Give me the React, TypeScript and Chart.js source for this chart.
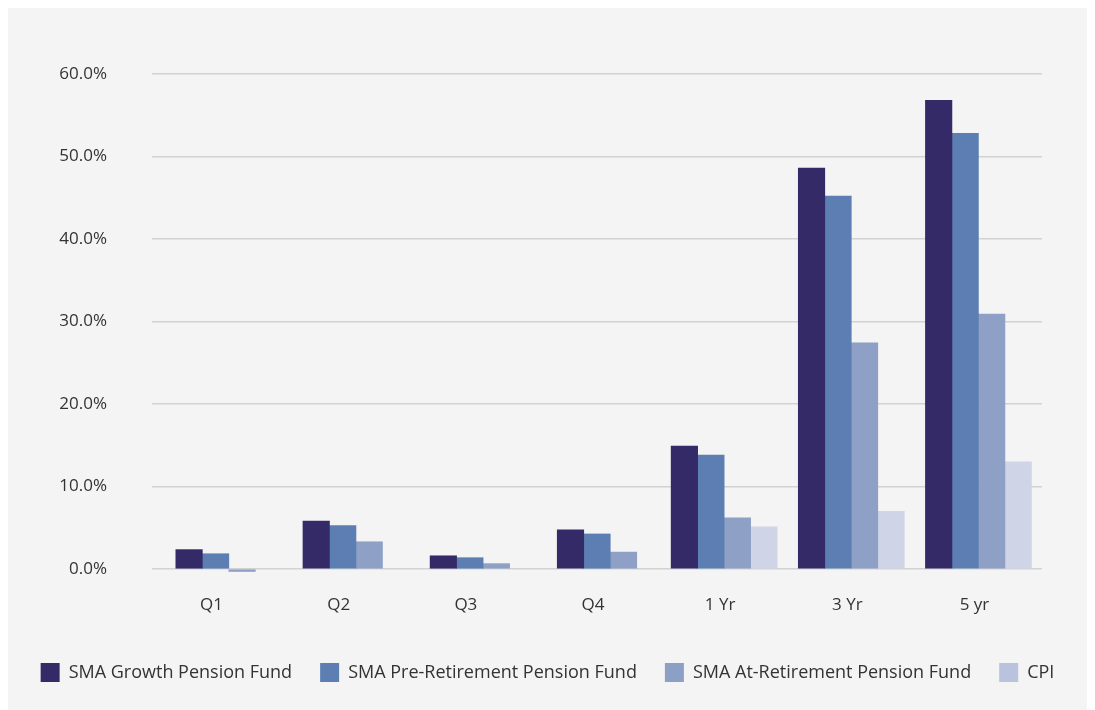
import React, { useEffect, useRef } from "react";
import { Chart, registerables } from "chart.js";

Chart.register(...registerables);

const categories = ["Q1", "Q2", "Q3", "Q4", "1 Yr", "3 Yr", "5 yr"];
const growthValues = [2.35, 5.8, 1.6, 4.75, 14.9, 48.6, 56.8];
const preRetirementValues = [1.85, 5.25, 1.37, 4.25, 13.8, 45.2, 52.8];
const atRetirementValues = [-0.3, 3.3, 0.65, 2.05, 6.2, 27.4, 30.9];
const cpiValues = [null, null, null, null, 5.1, 7.0, 13.0];
const yTicks = [0, 10, 20, 30, 40, 50, 60];

const seriesNames = [
  "SMA Growth Pension Fund",
  "SMA Pre-Retirement Pension Fund",
  "SMA At-Retirement Pension Fund",
  "CPI",
];
const seriesColors = ["#342a68", "#5d7eb2", "#8ea0c6", "#cfd4e6"];
const legendColors = ["#342a68", "#5d7eb2", "#8c9fc5", "#bac3dd"];

const oneRowLegend = {
  id: "oneRowLegend",
  beforeInit(chart: any) {
    const legend = chart.legend;
    if (!legend || legend.__patched) return;
    const orig = legend._fitRows;
    legend._fitRows = function (...args: any[]) {
      const mw = this.maxWidth;
      this.maxWidth = mw + 300;
      const r = orig.apply(this, args);
      this.maxWidth = mw;
      return r;
    };
    legend.__patched = true;
  },
};

export default function App() {
  const canvasRef = useRef<HTMLCanvasElement | null>(null);

  useEffect(() => {
    if (!canvasRef.current) return;
    const allValues = [growthValues, preRetirementValues, atRetirementValues, cpiValues];
    const chart = new Chart(canvasRef.current, {
      type: "bar",
      data: {
        labels: categories,
        datasets: allValues.map((vals, i) => ({
          label: seriesNames[i],
          data: vals as (number | null)[],
          backgroundColor: seriesColors[i],
          borderWidth: 0,
          barThickness: 26.5,
          skipNull: true,
          clip: false as any,
          yAxisID: "y",
        })),
      },
      plugins: [oneRowLegend],
      options: {
        animation: false,
        responsive: true,
        maintainAspectRatio: false,
        layout: { padding: { top: 71, right: 0, bottom: 18, left: 0 } },
        plugins: {
          legend: {
            position: "bottom",
            labels: {
              boxWidth: 19,
              boxHeight: 19,
              padding: 28,
              color: "#333333",
              font: { family: "'Open Sans', sans-serif", size: 18 },
              generateLabels: (c: any) =>
                c.data.datasets.map((d: any, i: number) => ({
                  text: d.label,
                  fillStyle: legendColors[i],
                  strokeStyle: legendColors[i],
                  lineWidth: 0,
                  hidden: false,
                  datasetIndex: i,
                  fontColor: "#333333",
                })),
            },
          },
          tooltip: { enabled: false },
        },
        scales: {
          x: {
            grid: { display: false, drawTicks: false },
            border: { display: false },
            ticks: {
              color: "#333333",
              padding: 26,
              labelOffset: -4,
              font: { family: "'Open Sans', sans-serif", size: 17 },
            },
            afterFit: (s: any) => {
              s.height = 66;
            },
          },
          y: {
            min: 0,
            max: 60,
            afterBuildTicks: (s: any) => {
              s.ticks = yTicks.map((v) => ({ value: v }));
            },
            grid: { color: "#d2d2d2", lineWidth: 1.5, drawTicks: false },
            border: { display: false },
            ticks: {
              color: "#333333",
              padding: 45,
              font: { family: "'Open Sans', sans-serif", size: 17 },
              callback: (v: any) => Number(v).toFixed(1) + "%",
            },
            afterFit: (s: any) => {
              s.width = 144;
            },
          },
          yRight: {
            position: "right",
            display: true,
            min: 0,
            max: 60,
            grid: { display: false, drawTicks: false },
            border: { display: false },
            ticks: { display: false },
            afterFit: (s: any) => {
              s.width = 45;
            },
          },
        },
      },
    });
    return () => chart.destroy();
  }, []);

  return (
    <div
      style={{
        height: 707,
        position: "relative",
        top: -5,
        background: "#f4f4f4",
      }}
    >
      <canvas ref={canvasRef} />
    </div>
  );
}
